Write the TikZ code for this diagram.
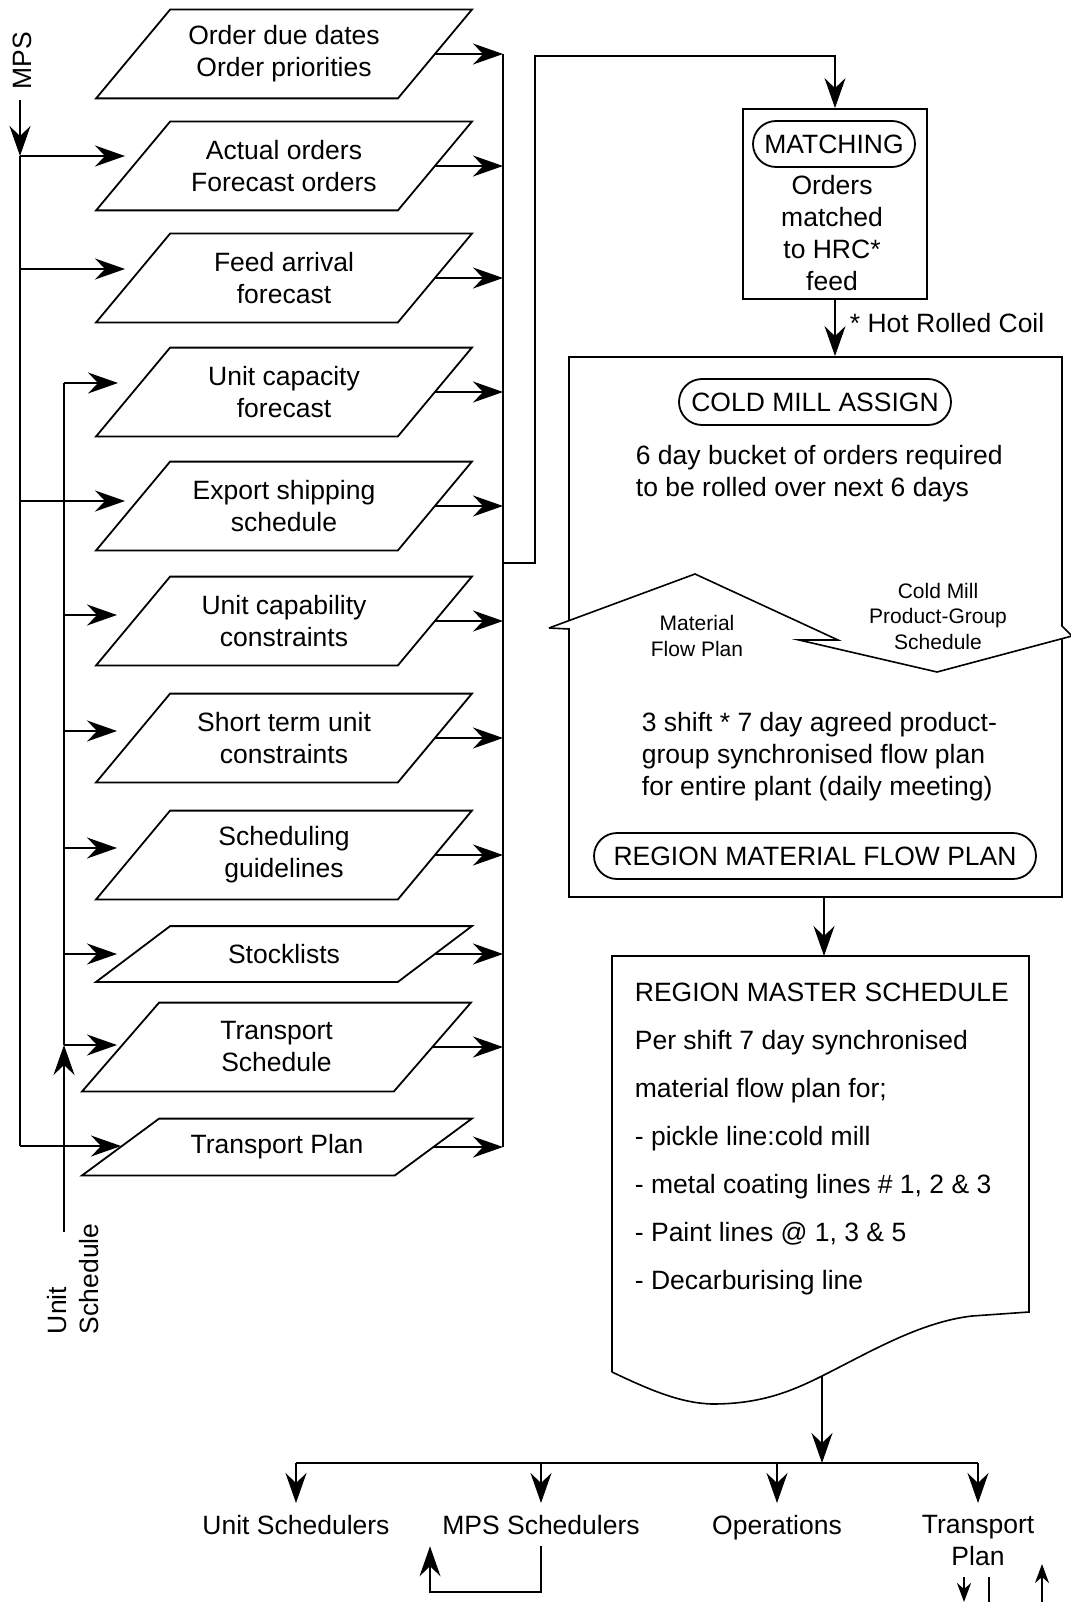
\documentclass[tikz,border=0pt]{standalone}
\usepackage{fontspec}
\setmainfont{Liberation Sans}
\usetikzlibrary{arrows.meta}

\newcommand\paraoutline[1]{\pgfextra{\draw
  ([xshift=#1]\tikzlastnode.north west) -- ([xshift=#1]\tikzlastnode.north east)
  -- ([xshift=-#1]\tikzlastnode.south east) -- ([xshift=-#1]\tikzlastnode.south west)
  -- cycle;}}

\tikzset{
  parabody/.style={minimum width=300pt, inner sep=0pt, align=center},
  datapara/.style={parabody, minimum height=87pt, append after command={\paraoutline{37pt}}},
  flatpara/.style={parabody, minimum height=54pt, append after command={\paraoutline{37pt}}},
  tpara/.style={parabody, minimum width=310pt, minimum height=87pt, append after command={\paraoutline{38.5pt}}},
  tflatpara/.style={parabody, minimum width=311pt, minimum height=55pt, append after command={\paraoutline{38.5pt}}},
  pill/.style={draw, rounded corners=23pt, minimum height=46pt, inner sep=0pt},
  txt/.style={inner sep=0pt, align=left},
  outlbl/.style={inner xsep=0pt, inner ysep=11pt, align=center},
  chevtxt/.style={inner sep=0pt, align=center, font=\fontsize{21}{25.5}\selectfont},
  arr/.style={-{Stealth[length=30pt,width=21pt,inset=10pt]}},
  tinyarr/.style={-{Stealth[length=19pt,width=14pt,inset=6pt]}}
}

\begin{document}
\begin{tikzpicture}[x=1pt, y=-1pt, line width=1.8pt,
    font=\fontsize{26.5}{32}\selectfont]
  \useasboundingbox (0,0) rectangle (1070,1602);

  % data inputs
  \node[datapara] (b1) at (284,54) {Order due dates\\Order priorities};
  \node[datapara] (b2) at (284,166) {Actual orders\\Forecast orders};
  \node[datapara] (b3) at (284,278) {Feed arrival\\forecast};
  \node[datapara] (b4) at (284,392) {Unit capacity\\forecast};
  \node[datapara] (b5) at (284,506) {Export shipping\\schedule};
  \node[datapara] (b6) at (284,621) {Unit capability\\constraints};
  \node[datapara] (b7) at (284,738) {Short term unit\\constraints};
  \node[datapara] (b8) at (284,855) {Scheduling\\guidelines};
  \node[flatpara] (b9) at (284,954) {Stocklists};
  \node[tpara] (b10) at (276.5,1047) {Transport\\Schedule};
  \node[tflatpara] (b11) at (277,1147) {Transport Plan};

  \node[inner sep=0pt, rotate=90] (mps) at (22,61) {MPS};
  \node[txt, rotate=90, anchor=west] (uslbl) at (73.5,1335) {Unit\\Schedule};

  \coordinate (mpsfoot) at (20,100);
  \coordinate (mpsbus) at (20,156);
  \coordinate (usfoot) at (64,1232);
  \coordinate (ustip) at (64,1045);
  \coordinate (t2) at (125,156);
  \coordinate (t3) at (125,269);
  \coordinate (t4) at (118,383);
  \coordinate (t5) at (125,501);
  \coordinate (t6) at (117,615);
  \coordinate (t7) at (117,731);
  \coordinate (t8) at (117,848);
  \coordinate (t9) at (117,954);
  \coordinate (t10) at (117,1045);
  \coordinate (t11) at (121,1146);

  \draw[arr] (mpsfoot) -- (mpsbus);
  \draw (mpsbus) -- (mpsbus |- t11);
  \draw[arr] (mpsbus) -- (t2);
  \draw[arr] (mpsbus |- t3) -- (t3);
  \draw[arr] (mpsbus |- t5) -- (t5);
  \draw[arr] (mpsbus |- t11) -- (t11);

  \draw[arr] (usfoot) -- (ustip);
  \draw (ustip) -- (ustip |- t4);
  \draw[arr] (ustip |- t4) -- (t4);
  \draw[arr] (ustip |- t6) -- (t6);
  \draw[arr] (ustip |- t7) -- (t7);
  \draw[arr] (ustip |- t8) -- (t8);
  \draw[arr] (ustip |- t9) -- (t9);
  \draw[arr] (ustip) -- (t10);

  % collector
  \coordinate (obus) at (503,54);
  \coordinate (exit) at (503,563);
  \coordinate (jog) at (535,56);
  \draw (b1.east -| obus) -- (b11.east -| obus);
  \draw[arr] (b1.east) -- (b1.east -| obus);
  \draw[arr] (b2.east) -- (b2.east -| obus);
  \draw[arr] (b3.east) -- (b3.east -| obus);
  \draw[arr] (b4.east) -- (b4.east -| obus);
  \draw[arr] (b5.east) -- (b5.east -| obus);
  \draw[arr] (b6.east) -- (b6.east -| obus);
  \draw[arr] (b7.east) -- (b7.east -| obus);
  \draw[arr] (b8.east) -- (b8.east -| obus);
  \draw[arr] (b9.east) -- (b9.east -| obus);
  \draw[arr] (b10.east) -- (b10.east -| obus);
  \draw[arr] (b11.east) -- (b11.east -| obus);

  % matching
  \node[draw, minimum width=184pt, minimum height=190pt, inner sep=0pt] (match) at (835,204) {};
  \node[pill, minimum width=162pt] (matchtag) at (834,144) {MATCHING};
  \node[txt, align=center] (matchtxt) at (832,233) {Orders\\matched\\to HRC*\\feed};
  \draw[arr, line width=1.5pt] (exit) -| (jog) -| (match.north);

  % cold mill
  \node[minimum width=493pt, minimum height=540pt, inner sep=0pt] (cold) at (815.5,627) {};
  \draw[arr, line width=1.5pt] (match.south) -- (match.south |- cold.north);
  \node[txt, anchor=west] (hrc) at (849,323) {* Hot Rolled Coil};
  \draw[line width=1.6pt] (549,628) -- (695,574) -- (838,640) -- (799,640) -- (937,672) -- (1072,636)
    -- (1062,626) -- (1062,357) -- (569,357) -- (569,621);
  \draw[line width=1.6pt] (549,628) -- (569,629) -- (569,897) -- (1062,897) -- (1062,639);
  \node[pill, minimum width=272pt] (coldtag) at (815,402) {COLD MILL ASSIGN};
  \node[txt, anchor=west] (bucket) at (635,474) {6 day bucket of orders required\\to be rolled over next 6 days};
  \node[chevtxt] (mfp) at (697,636) {Material\\Flow Plan};
  \node[chevtxt] (cmpg) at (938,616) {Cold Mill\\Product-Group\\Schedule};
  \node[txt, anchor=west] (agreed) at (641,757) {3 shift * 7 day agreed product-\\group synchronised flow plan\\for entire plant (daily meeting)};
  \node[pill, minimum width=442pt] (regiontag) at (815,856) {REGION MATERIAL FLOW PLAN};

  % master schedule
  \coordinate (mastertop) at (824,956);
  \coordinate (wave) at (822,1376);
  \draw[arr, line width=1.5pt] (cold.south -| mastertop) -- (mastertop);
  \draw[line width=1.6pt] (612,1372) -- (612,956) -- (1029,956) -- (1029,1312) -- (972,1316)
    .. controls (920,1322) and (870,1352) .. (wave)
    .. controls (790,1392) and (760,1404) .. (712,1404)
    .. controls (680,1403) and (650,1390) .. (612,1372);
  \node[txt, anchor=west, font=\fontsize{26.5}{48}\selectfont] (mastertxt) at (634,1139)
    {REGION MASTER SCHEDULE\\Per shift 7 day synchronised\\material flow plan for;\\- pickle line:cold mill\\- metal coating lines \# 1, 2 \& 3\\- Paint lines @ 1, 3 \& 5\\- Decarburising line};

  % distribution
  \coordinate (dbus) at (822,1463);
  \node[outlbl, anchor=north] (unitsch) at (296,1503) {Unit Schedulers};
  \node[outlbl, anchor=north] (mpssch) at (541,1503) {MPS Schedulers};
  \node[outlbl, anchor=north] (ops) at (777,1503) {Operations};
  \node[outlbl, anchor=north] (trplan) at (978,1503) {Transport\\Plan};
  \draw[arr] (wave) -- (dbus);
  \draw (unitsch.north |- dbus) -- (trplan.north |- dbus);
  \draw[arr] (unitsch.north |- dbus) -- (unitsch.north);
  \draw[arr] (mpssch.north |- dbus) -- (mpssch.north);
  \draw[arr] (ops.north |- dbus) -- (ops.north);
  \draw[arr] (trplan.north |- dbus) -- (trplan.north);

  \coordinate (loopcorner) at (430,1592);
  \draw[arr, line width=1.5pt] (mpssch.south) |- (loopcorner) -- (loopcorner |- mpssch.south);
  \coordinate (tpdown) at (964,1602);
  \coordinate (tpline) at (989,1612);
  \coordinate (tpup) at (1042,1564);
  \coordinate (tpupfoot) at (1042,1612);
  \draw[tinyarr] (tpdown |- trplan.south) -- (tpdown);
  \draw (tpline |- trplan.south) -- (tpline);
  \draw[tinyarr] (tpupfoot) -- (tpup);
\end{tikzpicture}
\end{document}
